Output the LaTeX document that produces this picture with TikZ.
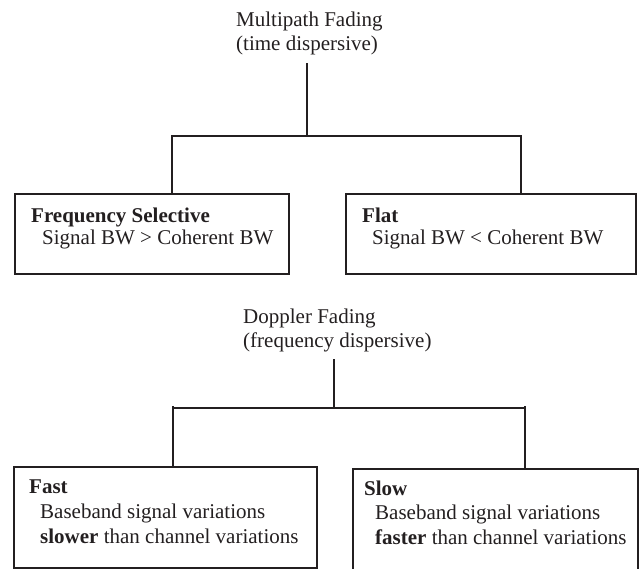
\documentclass[tikz,border=0pt]{standalone}
\usepackage{fontspec}
\setmainfont{Liberation Serif}
\definecolor{ink}{HTML}{231F20}
\begin{document}
\begin{tikzpicture}[x=1pt,y=-1pt,
  txt/.style={anchor=base west,inner sep=0pt,text=ink,font=\fontsize{21}{24}\selectfont},
  box/.style={draw=ink,line width=1.6pt,rectangle,inner sep=0pt,anchor=north west},
  wire/.style={draw=ink,line width=1.6pt}]
\clip (0,0) rectangle (639,568);
% Multipath fading
\node[txt] (mp1) at (236,26) {Multipath Fading};
\node[txt] (mp2) at (236,50) {(time dispersive)};
\coordinate (mptop) at (307,63);
\coordinate (mpL) at (172,136);
\coordinate (mpR) at (521,136);
\node[box,minimum width=274pt,minimum height=80pt] (fs) at (14,193) {};
\node[box,minimum width=290pt,minimum height=80pt] (flat) at (345,193) {};
\node[txt,font=\fontsize{21}{24}\selectfont\bfseries] (fst) at (31,222) {Frequency Selective};
\node[txt] (fsd) at (42,244) {Signal BW > Coherent BW};
\node[txt,font=\fontsize{21}{24}\selectfont\bfseries] (flt) at (362,222) {Flat};
\node[txt] (fld) at (372,244) {Signal BW < Coherent BW};
\draw[wire] (mptop) -- (mptop |- mpL);
\draw[wire] (mpL |- fs.north) -- (mpL) -- (mpR) -- (mpR |- flat.north);
% Doppler fading
\node[txt] (dp1) at (243,323) {Doppler Fading};
\node[txt] (dp2) at (243,347) {(frequency dispersive)};
\coordinate (dptop) at (334,359);
\coordinate (dpJ) at (334,408);
\coordinate (dpL) at (173,406);
\coordinate (dpR) at (525,406);
\node[box,minimum width=303pt,minimum height=101pt] (fast) at (13,466) {};
\node[box,minimum width=285pt,minimum height=106pt] (slow) at (352,468) {};
\node[txt,font=\fontsize{21}{24}\selectfont\bfseries] (fat) at (29,493) {Fast};
\node[txt] (fa1) at (40,518) {Baseband signal variations};
\node[txt] (fa2) at (40,543) {\textbf{slower} than channel variations};
\node[txt,font=\fontsize{21}{24}\selectfont\bfseries] (slt) at (364,495) {Slow};
\node[txt] (sl1) at (375,519) {Baseband signal variations};
\node[txt] (sl2) at (375,544) {\textbf{faster} than channel variations};
\draw[wire] (dptop) -- (dpJ);
\draw[wire] (dpL |- dpJ) -- (dpR |- dpJ);
\draw[wire] (dpL) -- (dpL |- fast.north);
\draw[wire] (dpR) -- (dpR |- slow.north);
\end{tikzpicture}
\end{document}
